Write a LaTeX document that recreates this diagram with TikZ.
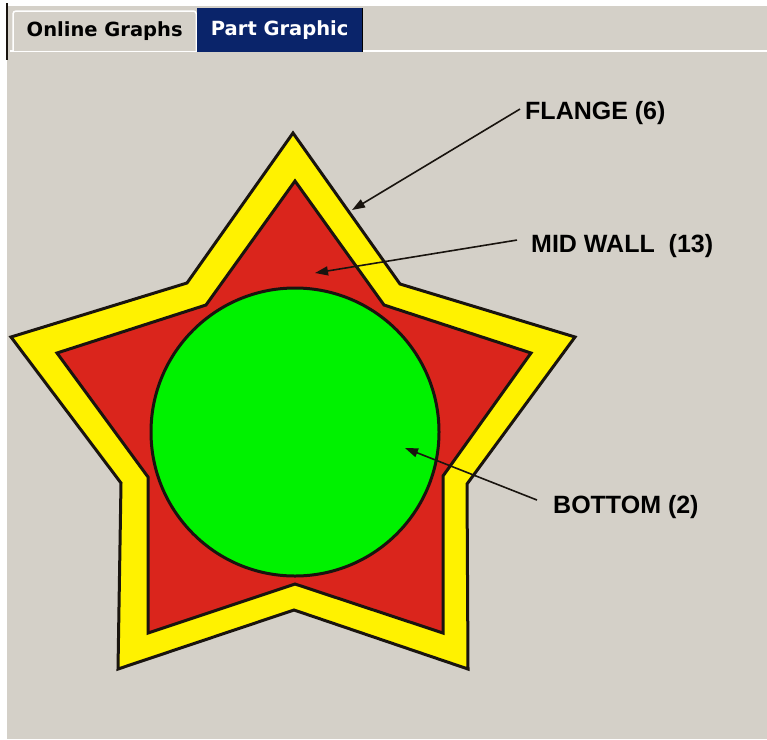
\documentclass[tikz,border=0pt]{standalone}
\usepackage{fontspec}
\setmainfont{Liberation Sans}
\newfontfamily\tabfont{DejaVu Sans}
\usetikzlibrary{arrows.meta}
\definecolor{partgray}{RGB}{212,208,200}
\definecolor{partnavy}{RGB}{10,36,106}
\definecolor{partyellow}{RGB}{255,242,0}
\definecolor{partred}{RGB}{218,37,28}
\definecolor{partgreen}{RGB}{0,242,0}
\definecolor{partline}{RGB}{25,20,15}

\begin{document}
\begin{tikzpicture}[x=1pt, y=-1pt, >={Triangle[length=13pt, width=9pt]},
    callout/.style={anchor=base west, inner sep=0pt, font=\fontsize{25}{30}\selectfont\bfseries},
    pointer/.style={->, line width=1.6pt, partline},
    tab/.style={anchor=north west, inner sep=0pt, font=\tabfont\fontsize{19.5}{23}\selectfont\bfseries},
    wall/.style={line width=3pt, draw=partline, line join=miter}]

\useasboundingbox (0,0) rectangle (767,739);

% === Fondo ===
\fill[white] (0,0) rectangle (767,739);
\fill[partgray] (7,6) rectangle (767,739);
\draw[partline, line width=2pt] (7,3) -- (7,60);

% === Pestañas ===
\draw[white, line width=1.5pt] (10,51) -- (767,51);
\node[tab, minimum width=183pt, minimum height=40pt, fill=partgray] (online) at (13,11) {Online Graphs};
\draw[white, line width=1.5pt, rounded corners=3pt]
    (online.south west) -- (online.north west) -- (online.north east) -- (online.south east);
\node[tab, minimum width=165pt, minimum height=44pt, fill=partnavy, text=white] (part) at (197,8) {Part Graphic};
\draw[black, line width=1.5pt] (part.north east) -- (part.south east);

% === Pieza: estrella y fondo ===
% Ala (flange)
\draw[wall, fill=partyellow]
    (293,133) -- (400,284) -- (575,337) -- (467,484) -- (468,669)
    -- (294,610) -- (118,669) -- (121,483) -- (11,337) -- (187,283) -- cycle;
% Pared media
\draw[wall, fill=partred]
    (295,181) -- (384,305) -- (531,353) -- (443,476) -- (443,633)
    -- (295,584) -- (148,633) -- (148,477) -- (57,353) -- (206,305) -- cycle;
% Fondo
\draw[wall, fill=partgreen] (295,432) circle (144pt);

% === Etiquetas ===
\node[callout] (flange) at (525,119) {FLANGE (6)};
\node[callout] (midwall) at (531,252) {MID WALL\ \ (13)};
\node[callout] (bottom) at (553,513) {BOTTOM (2)};

\coordinate (flangetip) at (352,210);
\coordinate (midtip) at (315,273);
\coordinate (bottomtip) at (405,448);

% Flechas
\draw[pointer] ([xshift=-5pt, yshift=3.5pt]flange.west) -- (flangetip);
\draw[pointer] ([xshift=-14pt, yshift=5.5pt]midwall.west) -- (midtip);
\draw[pointer] ([xshift=-16pt, yshift=6.5pt]bottom.west) -- (bottomtip);

\end{tikzpicture}
\end{document}
